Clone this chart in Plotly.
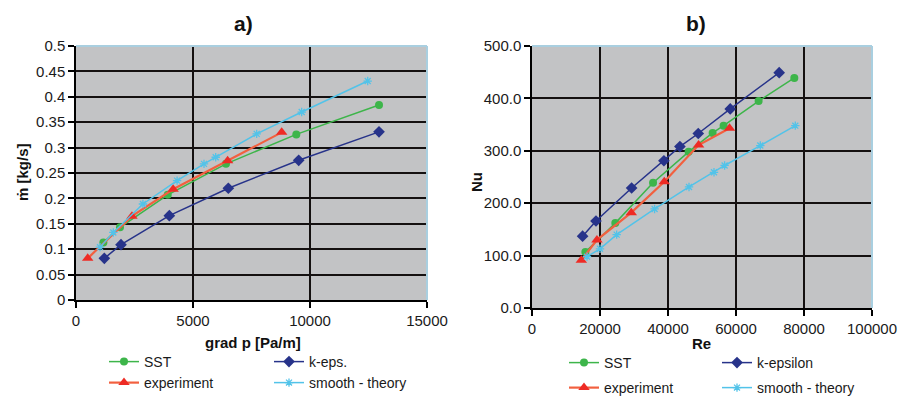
import plotly.graph_objects as go

# ---------- data: panel a) mass flow vs pressure gradient ----------
a_sst_x = [1170, 1880, 3920, 6410, 9415, 12950]
a_sst_y = [0.113, 0.143, 0.207, 0.268, 0.326, 0.384]
a_keps_x = [1211, 1923, 3988, 6510, 9517, 12949]
a_keps_y = [0.082, 0.109, 0.166, 0.220, 0.275, 0.331]
a_exp_x = [500, 2390, 4150, 6480, 8790]
a_exp_y = [0.082, 0.165, 0.218, 0.274, 0.330]
a_th_x = [1026, 1595, 2860, 4320, 5470, 5970, 7722, 9645, 12466]
a_th_y = [0.104, 0.133, 0.189, 0.235, 0.268, 0.281, 0.327, 0.370, 0.431]

# ---------- data: panel b) Nusselt vs Reynolds ----------
b_sst_x = [15700, 24500, 35600, 46060, 53120, 56350, 66650, 77150]
b_sst_y = [107, 162, 239, 298, 334, 348, 395, 439]
b_keps_x = [14880, 18820, 29300, 38800, 43500, 48900, 58300, 72700]
b_keps_y = [137, 166, 229, 281, 308, 333, 380, 449]
b_exp_x = [14500, 19100, 29200, 38900, 49000, 58100]
b_exp_y = [91, 130, 182, 241, 311, 343]
b_th_x = [16180, 20000, 24900, 36060, 46180, 53530, 56650, 67150, 77440]
b_th_y = [98, 113, 140, 189, 231, 259, 272, 310, 348]

# ---------- tick labels ----------
a_xticks = [0, 5000, 10000, 15000]
a_xticktext = ["0", "5000", "10000", "15000"]
a_yticks = [0, 0.05, 0.1, 0.15, 0.2, 0.25, 0.3, 0.35, 0.4, 0.45, 0.5]
a_yticktext = ["0", "0.05", "0.1", "0.15", "0.2", "0.25", "0.3", "0.35", "0.4", "0.45", "0.5"]
b_xticks = [0, 20000, 40000, 60000, 80000, 100000]
b_xticktext = ["0", "20000", "40000", "60000", "80000", "100000"]
b_yticks = [0, 100, 200, 300, 400, 500]
b_yticktext = ["0.0", "100.0", "200.0", "300.0", "400.0", "500.0"]

W, H = 898, 396
FONT = "Liberation Sans, Arial, sans-serif"

GREEN = "#3db54a"
NAVY = "#27338a"
RED_LINE = "#f2603f"
RED_MK = "#ee2b25"
CYAN = "#52c3e9"
PLOTBG = "#c2c3c5"
GRID = "#141010"
EDGE = "#a9cfe0"

fig = go.Figure()

def add_series(x, y, name, xa, ya, legend, kind):
    if kind == "sst":
        line = dict(color=GREEN, width=1.5)
        marker = dict(symbol="circle", size=8, color=GREEN)
    elif kind == "keps":
        line = dict(color=NAVY, width=1.5)
        marker = dict(symbol="diamond", size=9, color=NAVY)
    elif kind == "exp":
        line = dict(color=RED_LINE, width=2.2)
        marker = dict(symbol="triangle-up", size=10, color=RED_MK)
    else:
        line = dict(color=CYAN, width=1.5)
        marker = dict(symbol="asterisk-open", size=7, color=CYAN,
                      line=dict(color=CYAN, width=1.3))
    fig.add_trace(go.Scatter(x=x, y=y, name=name, mode="lines+markers",
                             line=line, marker=marker, xaxis=xa, yaxis=ya,
                             legend=legend, cliponaxis=False))

add_series(a_sst_x, a_sst_y, "SST", "x", "y", "legend", "sst")
add_series(a_keps_x, a_keps_y, "k-eps.", "x", "y", "legend", "keps")
add_series(a_exp_x, a_exp_y, "experiment", "x", "y", "legend2", "exp")
add_series(a_th_x, a_th_y, "smooth - theory", "x", "y", "legend2", "th")

add_series(b_sst_x, b_sst_y, "SST", "x2", "y2", "legend3", "sst")
add_series(b_keps_x, b_keps_y, "k-epsilon", "x2", "y2", "legend3", "keps")
add_series(b_exp_x, b_exp_y, "experiment", "x2", "y2", "legend4", "exp")
add_series(b_th_x, b_th_y, "smooth - theory", "x2", "y2", "legend4", "th")

def px_x(p):
    return p / W

def px_y(p):
    return 1 - p / H

axis_common = dict(
    showgrid=True, gridcolor=GRID, gridwidth=2,
    showline=True, linecolor="#000000", linewidth=1.5,
    ticks="outside", ticklen=6, tickcolor="#000000", tickwidth=1.5,
    tickfont=dict(family=FONT, size=15, color="#1a1a1a"),
    zeroline=False, automargin=False, tickmode="array",
)

fig.update_layout(
    template="none",
    width=W, height=H, autosize=False,
    margin=dict(l=0, r=0, t=0, b=0, autoexpand=False),
    paper_bgcolor="white", plot_bgcolor=PLOTBG,
    font=dict(family=FONT, size=14, color="#1a1a1a"),
    xaxis=dict(domain=[px_x(76), px_x(427)], range=[0, 15000],
               tickvals=a_xticks, ticktext=a_xticktext, anchor="y", **axis_common),
    yaxis=dict(domain=[px_y(300), px_y(46)], range=[0, 0.5],
               tickvals=a_yticks, ticktext=a_yticktext, anchor="x", **axis_common),
    xaxis2=dict(domain=[px_x(532), px_x(872)], range=[0, 100000],
                tickvals=b_xticks, ticktext=b_xticktext, anchor="y2", **axis_common),
    yaxis2=dict(domain=[px_y(308), px_y(46)], range=[0, 500],
                tickvals=b_yticks, ticktext=b_yticktext, anchor="x2", **axis_common),
)

leg_common = dict(orientation="h", xref="paper", yref="paper",
                  yanchor="middle", xanchor="left", bgcolor="rgba(0,0,0,0)",
                  font=dict(family=FONT, size=14, color="#1a1a1a"),
                  itemclick=False, itemdoubleclick=False)
fig.update_layout(
    legend=dict(x=px_x(104), y=px_y(362), entrywidth=120, **leg_common),
    legend2=dict(x=px_x(104), y=px_y(383), entrywidth=120, **leg_common),
    legend3=dict(x=px_x(564), y=px_y(363), entrywidth=108, **leg_common),
    legend4=dict(x=px_x(564), y=px_y(388), entrywidth=108, **leg_common),
)

# plot-area border (top and right edges), light blue as in the original
for xr, yr in (("x domain", "y domain"), ("x2 domain", "y2 domain")):
    fig.add_shape(type="line", xref=xr, yref=yr, x0=0, x1=1, y0=1, y1=1,
                  line=dict(color=EDGE, width=2))
    fig.add_shape(type="line", xref=xr, yref=yr, x0=1, x1=1, y0=0, y1=1,
                  line=dict(color=EDGE, width=2))

ann = []
def text(x, y, s, size=15, bold=True, angle=0):
    ann.append(dict(x=px_x(x), y=px_y(y), xref="paper", yref="paper",
                    text=f"<b>{s}</b>" if bold else s, showarrow=False,
                    xanchor="center", yanchor="middle", textangle=angle,
                    font=dict(family=FONT, size=size, color="#111111")))

text(243, 24, "a)", size=21)
text(696, 24, "b)", size=21)
text(253, 342, "grad p [Pa/m]")
text(701, 343, "Re")
text(22, 172, "ṁ [kg/s]", angle=-90)
text(477, 182, "Nu", angle=-90)
fig.update_layout(annotations=ann)

fig.write_html(
    "out.html",
    config={"displayModeBar": False},
    post_script="document.body.style.margin='0';document.body.style.overflow='hidden';",
)
